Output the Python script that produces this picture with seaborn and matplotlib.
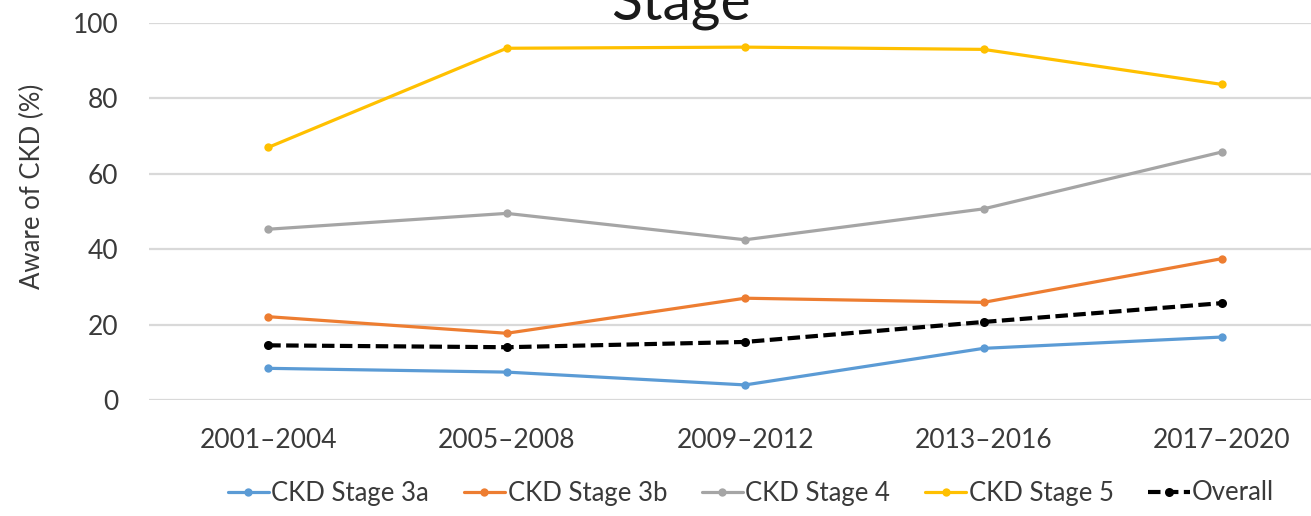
#
# CKD awareness by stage, line chart
#
import numpy as np
import pandas as pd
import matplotlib
matplotlib.use('Agg')
import matplotlib.pyplot as plt
import seaborn as sns

# ------------------------------------------------------------- #
# Data
periods = ['2001–2004', '2005–2008', '2009–2012', '2013–2016', '2017–2020']
stage3a = [8.4, 7.4, 4.0, 13.7, 16.7]
stage3b = [22.1, 17.7, 27.0, 25.9, 37.5]
stage4 = [45.3, 49.5, 42.5, 50.7, 65.8]
stage5 = [67.0, 93.3, 93.6, 93.0, 83.7]
overall = [14.5, 14.0, 15.4, 20.7, 25.7]

names = ['CKD Stage 3a', 'CKD Stage 3b', 'CKD Stage 4', 'CKD Stage 5', 'Overall']
colors = ['#5B9BD5', '#ED7D31', '#A5A5A5', '#FFC000', '#000000']

# ------------------------------------------------------------- #
sns.set_style('white')
plt.rcParams['font.family'] = ['Lato', 'DejaVu Sans']

df = pd.DataFrame({
    'period': periods * 5,
    'value': stage3a + stage3b + stage4 + stage5 + overall,
    'series': [n for n in names for _ in periods],
})

W, H = 1311, 516
fig = plt.figure(figsize=(W/100, H/100), dpi=100)
# axes: left edge at 149 px, bottom (0) at 400 px, top (100) at 23 px
ax = fig.add_axes([149/W, (H-400)/H, 1 - 149/W, 377/H])

for name, col in zip(names, colors):
    sub = df[df['series'] == name]
    if name == 'Overall':
        sns.lineplot(data=sub, x='period', y='value', ax=ax, color=col,
                     linewidth=3.0, linestyle=(0, (3, 1.3)), marker='o',
                     markersize=6.5, markeredgewidth=0, label=name, sort=False)
    else:
        sns.lineplot(data=sub, x='period', y='value', ax=ax, color=col,
                     linewidth=2.3, marker='o', markersize=6,
                     markeredgewidth=0, label=name, sort=False)

ax.set_ylim(0, 100)
ax.set_xlim(-0.5, 4.373)
ax.set_yticks([0, 20, 40, 60, 80, 100])
ax.yaxis.grid(True, color='#D9D9D9', linewidth=1.6)
ax.set_axisbelow(True)
for s in ax.spines.values():
    s.set_visible(False)
ax.tick_params(axis='both', length=0, labelsize=19, colors='#3a3a3a')
ax.tick_params(axis='y', pad=22)
ax.tick_params(axis='x', pad=20)
ax.set_xlabel('')
ax.set_ylabel('Aware of CKD (%)', fontsize=18.5, color='#3a3a3a')
ax.yaxis.set_label_coords((45-149)/1162, (400-186.5)/377)

ax.legend(loc='center', bbox_to_anchor=((751-149)/1162, (400-493)/377), ncol=5,
          frameon=False, fontsize=18.5, handlelength=1.6, handletextpad=0.1,
          columnspacing=1.35, labelcolor='#3a3a3a', borderpad=0)

fig.text(681/W, 1 - 20/H, 'Stage', ha='center', va='baseline', fontsize=41,
         color='#1a1a1a')

fig.savefig('out.png', dpi=100)
plt.close()
